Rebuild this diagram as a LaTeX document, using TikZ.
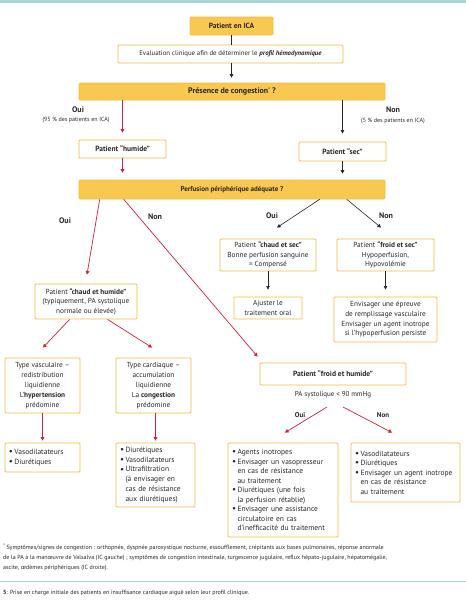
\documentclass[tikz,border=0pt]{standalone}
\usepackage{fontspec}
\setmainfont{PT Sans}
\usetikzlibrary{arrows.meta,calc}
\definecolor{ylw}{HTML}{F8C851}
\definecolor{ylwb}{HTML}{EFBE48}
\definecolor{redc}{HTML}{C9243A}
\definecolor{tealc}{HTML}{A9D3DB}
\definecolor{txt}{HTML}{2A2626}
\newcommand{\bul}{\makebox[5.5pt][l]{\raisebox{-0.05ex}{\fontsize{9}{9}\selectfont•}}}
\newcommand{\ind}{\hspace*{5.5pt}}
\newcommand{\astr}{\raisebox{0.45ex}{\fontsize{5}{5}\selectfont *}}
\begin{document}
\begin{tikzpicture}[x=1pt,y=-1pt,
  every node/.style={text=txt},
  yb/.style={draw=ylwb, fill=ylw, line width=0.6pt, rounded corners=1pt, inner sep=0pt, align=center, font=\bfseries\fontsize{7.5}{9}\selectfont},
  wb/.style={draw=ylwb, fill=white, line width=0.9pt, rounded corners=1pt, inner sep=0pt, align=center, font=\fontsize{7.3}{9.6}\selectfont},
  lb/.style={wb, align=left, inner xsep=4pt},
  lbl/.style={font=\bfseries\fontsize{8}{9}\selectfont, inner sep=0pt},
  sml/.style={font=\fontsize{6}{7}\selectfont, inner sep=0pt},
  blk/.style={draw=black!85, line width=0.6pt, -{Triangle[length=3.5pt,width=3.5pt]}},
  rarr/.style={draw=redc, line width=0.7pt, -{Triangle[length=3.5pt,width=3.8pt]}},
]
\useasboundingbox (0,0) rectangle (466,600);
\fill[white] (0,0) rectangle (466,600);
\fill[tealc] (0,0) rectangle (466,3);

% boxes
\node[yb, minimum width=83, minimum height=18] (b1) at (231.5,26) {Patient en ICA};
\node[wb, minimum width=225, minimum height=18, font=\fontsize{6.8}{8}\selectfont] (b2) at (230.5,54) {Evaluation clinique afin de déterminer le \textbf{\textit{profil hémodynamique}}};
\node[yb, minimum width=306, minimum height=17, font=\bfseries\fontsize{8}{9}\selectfont] (b3) at (232,91.5) {Présence de congestion\astr{} ?};
\node[wb, minimum width=87, minimum height=18, font=\bfseries\fontsize{7.5}{9}\selectfont] (hum) at (122.5,149) {Patient “humide”};
\node[wb, minimum width=87, minimum height=19, font=\bfseries\fontsize{7.5}{9}\selectfont] (sec) at (342.5,151.5) {Patient “sec”};
\node[yb, minimum width=306, minimum height=19, font=\bfseries\fontsize{7}{9}\selectfont] (perf) at (232,189.5) {Perfusion périphérique adéquate ?};

\node[wb, minimum width=96, minimum height=32] (chs) at (268,255) {Patient \textbf{“chaud et sec”}\\Bonne perfusion sanguine\\= Compensé};
\node[wb, minimum width=97, minimum height=32] (fs) at (385.5,255) {Patient \textbf{“froid et sec”}\\Hypoperfusion,\\Hypovolémie};
\node[wb, minimum width=68, minimum height=22] (adj) at (268,308) {Ajuster le\\traitement oral};
\node[wb, minimum width=103, minimum height=45] (env) at (385.5,319.5) {Envisager une épreuve\\de remplissage vasculaire\\Envisager un agent inotrope\\si l’hypoperfusion persiste};

\node[wb, minimum width=102, minimum height=35] (chw) at (86,301.5) {Patient \textbf{“chaud et humide”}\\(typiquement, PA systolique\\normale ou élevée)};
\node[wb, minimum width=75, minimum height=55, font=\fontsize{7.3}{10}\selectfont] (vasc) at (42.5,385.5) {Type vasculaire –\\redistribution\\liquidienne\\L’\textbf{hypertension}\\prédomine};
\node[wb, minimum width=75, minimum height=55, font=\fontsize{7.3}{10}\selectfont] (card) at (153.5,385.5) {Type cardiaque –\\accumulation\\liquidienne\\La \textbf{congestion}\\prédomine};
\node[lb, minimum width=75, minimum height=29, text width=67, font=\fontsize{7.5}{9.5}\selectfont] (lvasc) at (42.5,457.5) {\bul Vasodilatateurs\\\bul Diurétiques};
\node[lb, minimum width=79, minimum height=64, text width=71, font=\fontsize{7.5}{9.8}\selectfont] (lcard) at (155.5,475) {\bul Diurétiques\\\bul Vasodilatateurs\\\bul Ultrafiltration\\\ind(à envisager en\\\ind cas de résistance\\\ind aux diurétiques)};

\node[wb, minimum width=146, minimum height=22, font=\bfseries\fontsize{7.5}{9}\selectfont] (fh) at (333,374) {Patient “froid et humide”};
\node[font=\fontsize{7}{8}\selectfont, inner sep=0pt] (pa) at (333,395) {PA systolique < 90 mmHg};
\node[lb, minimum width=110, minimum height=94, text width=102, font=\fontsize{7.5}{9.5}\selectfont] (lagt) at (283,490) {\bul Agents inotropes\\\bul Envisager un vasopresseur\\\ind en cas de résistance\\\ind au traitement\\\bul Diurétiques (une fois\\\ind la perfusion rétablie)\\\bul Envisager une assistance\\\ind circulatoire en cas\\\ind d’inefficacité du traitement};
\node[lb, minimum width=109, minimum height=59, text width=101, font=\fontsize{7.5}{9.5}\selectfont] (lvaso) at (405.5,472.5) {\bul Vasodilatateurs\\\bul Diurétiques\\\bul Envisager un agent inotrope\\\ind en cas de résistance\\\ind au traitement};

% labels
\node[lbl] (o1) at (78,110) {Oui};
\node[sml] (o1s) at (76,120.5) {(95 \% des patients en ICA)};
\node[lbl] (n1) at (393,110) {Non};
\node[sml] (n1s) at (393,121) {(5 \% des patients en ICA)};
\node[lbl] (o2) at (65,221) {Oui};
\node[lbl] (n2) at (155,217) {Non};
\node[lbl] (o3) at (272,216) {Oui};
\node[lbl] (n3) at (386,216) {Non};
\node[lbl, font=\bfseries\fontsize{7}{8}\selectfont] (o4) at (300,415) {Oui};
\node[lbl, font=\bfseries\fontsize{7}{8}\selectfont] (n4) at (383,415) {Non};

% connectors
\draw[draw=black!85, line width=0.6pt] (b1.south) -- (b1.south |- b2.north);
\draw[blk, shorten >=5pt] (b2.south -| b1.south) -- (b1.south |- b3.north);
\draw[rarr, shorten >=7pt] (b3.south -| hum.north) -- (hum.north);
\draw[blk, shorten >=8pt] (b3.south -| sec.north) -- (sec.north);
\draw[rarr, shorten >=7pt] (hum.south) -- (hum.south |- perf.north);
\draw[blk, shorten >=6pt] (sec.south) -- (sec.south |- perf.north);
\draw[rarr] ($(perf.south west)+(21,0)$) -- ($(chw.north)+(1,-9)$);
\draw[rarr] ($(perf.south west)+(45,0)$) -- ($(fh.north west)+(-2,-6)$);
\draw[blk] ($(perf.south west)+(241,0)$) -- ($(chs.north)+(9,-11)$);
\draw[blk] ($(perf.south west)+(268,0)$) -- ($(fs.north)+(-4.5,-11)$);
\draw[blk, shorten >=7pt] (chs.south) -- (chs.south |- adj.north);
\draw[blk, shorten >=7pt] (fs.south) -- (fs.south |- env.north);
\draw[rarr] ($(chw.south west)+(35,0)$) -- ($(vasc.north)+(0.5,-10)$);
\draw[rarr] ($(chw.south west)+(73,0)$) -- ($(card.north)+(-1.5,-10)$);
\draw[rarr, shorten >=2pt] (vasc.south) -- (vasc.south |- lvasc.north);
\draw[rarr, shorten >=2pt] (card.south -| lcard.north) -- (lcard.north);
\draw[rarr] ($(pa)+(-6,12)$) -- ($(lagt.north)+(2,-10)$);
\draw[rarr] ($(pa)+(10,12)$) -- ($(lvaso.north)+(-13.5,-10)$);

% footnote and caption
\node[anchor=north west, inner sep=0pt, align=left, font=\fontsize{6}{10}\selectfont] (fn) at (3,544) {\astr{} Symptômes/signes de congestion : orthopnée, dyspnée paroxystique nocturne, essoufflement, crépitants aux bases pulmonaires, réponse anormale\\de la PA à la manœuvre de Valsalva (IC gauche) ; symptômes de congestion intestinale, turgescence jugulaire, reflux hépato-jugulaire, hépatomégalie,\\ascite, œdèmes périphériques (IC droite).};
\fill[tealc] (0,580.5) rectangle (466,582.3);
\node[anchor=west, inner sep=0pt, font=\fontsize{6}{7}\selectfont] (cap) at (3,593) {\textbf{5}: Prise en charge initiale des patients en insuffisance cardiaque aiguë selon leur profil clinique.};
\end{tikzpicture}
\end{document}
